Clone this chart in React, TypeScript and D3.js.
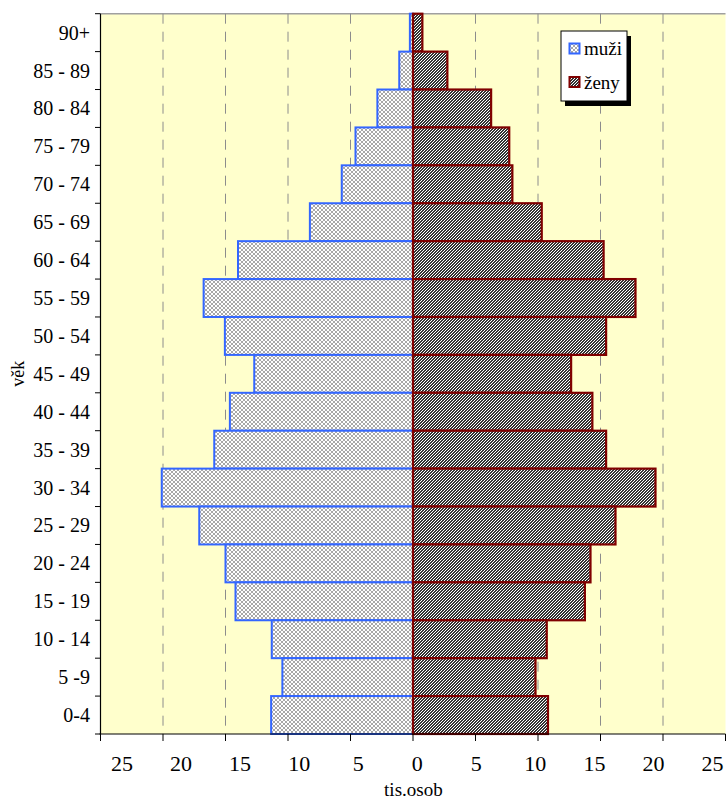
import { scaleBand, scaleLinear } from "d3";

const ageGroups = [
  "90+", "85 - 89", "80 - 84", "75 - 79", "70 - 74", "65 - 69", "60 - 64",
  "55 - 59", "50 - 54", "45 - 49", "40 - 44", "35 - 39", "30 - 34", "25 - 29",
  "20 - 24", "15 - 19", "10 - 14", "5 -9", "0-4",
];
// tis. osob, top row first
const muzi = [0.25, 1.1, 2.85, 4.6, 5.7, 8.25, 14.0, 16.75, 15.05, 12.7, 14.65, 15.9, 20.1, 17.1, 15.0, 14.2, 11.3, 10.45, 11.35];
const zeny = [0.75, 2.75, 6.25, 7.7, 7.95, 10.3, 15.25, 17.8, 15.45, 12.65, 14.35, 15.45, 19.4, 16.2, 14.2, 13.75, 10.7, 9.8, 10.8];
const xTicks = [-25, -20, -15, -10, -5, 0, 5, 10, 15, 20, 25];
const gridValues = [-20, -15, -10, -5, 5, 10, 15, 20];
const legendLabels = ["muži", "ženy"];

const FONT = "Liberation Serif, DejaVu Serif, serif";
const MEN_STROKE = "#3366ff";
const WOMEN_STROKE = "#800000";

export default function App() {
  const width = 727;
  const height = 800;
  const left = 100.5;
  const right = 725.5;
  const top = 13.7;
  const bottom = 734;

  const x = scaleLinear().domain([-25, 25]).range([left, right]);
  // Excel spreads the tick labels a bit narrower than the ticks themselves
  const xLabel = scaleLinear().domain([-25, 25]).range([122, 712.5]);
  const y = scaleBand<string>().domain(ageGroups).range([top, bottom]).padding(0);
  const bw = y.bandwidth();
  const x0 = x(0);

  const bandEdges = ageGroups.map((a) => y(a) as number).concat([bottom]);

  return (
    <svg
      width={width}
      height={height}
      style={{ position: "absolute", left: 0, top: 0, background: "#fff", fontFamily: FONT }}
    >
      <defs>
        <pattern id="pat-muzi" width="4" height="4" patternUnits="userSpaceOnUse">
          <rect width="4" height="4" fill="#ffffff" />
          {[[0, 0], [1, 1], [2, 2], [3, 3], [3, 0], [2, 1], [1, 2], [0, 3]].map(([px, py]) => (
            <rect key={`${px}-${py}`} x={px} y={py} width="1" height="1" fill="#a8a8a8" shapeRendering="crispEdges" />
          ))}
        </pattern>
        <pattern id="pat-zeny" width="3" height="3" patternUnits="userSpaceOnUse">
          <rect width="3" height="3" fill="#ffffff" />
          {[[0, 2], [1, 1], [2, 0], [1, 2], [2, 1], [0, 0]].map(([px, py]) => (
            <rect key={`${px}-${py}`} x={px} y={py} width="1" height="1" fill="#333333" shapeRendering="crispEdges" />
          ))}
        </pattern>
      </defs>

      {/* plot area */}
      <rect x={left} y={top} width={right - left} height={bottom - top} fill="#ffffcc" />
      <line x1={left} x2={right} y1={top} y2={top} stroke="#a0a0a0" strokeWidth="1.5" />

      {gridValues.map((v) => (
        <line
          key={`g-${v}`}
          x1={x(v)}
          x2={x(v)}
          y1={top}
          y2={bottom}
          stroke="#8c8c8c"
          strokeWidth="1"
          strokeDasharray="10,8"
        />
      ))}

      {/* men */}
      {muzi.map((v, i) => (
        <rect
          key={`m-${i}`}
          x={x(-v)}
          y={y(ageGroups[i])}
          width={x0 - x(-v)}
          height={bw}
          fill="url(#pat-muzi)"
          stroke={MEN_STROKE}
          strokeWidth="2"
        />
      ))}
      {/* women */}
      {zeny.map((v, i) => (
        <rect
          key={`z-${i}`}
          x={x0}
          y={y(ageGroups[i])}
          width={x(v) - x0}
          height={bw}
          fill="url(#pat-zeny)"
          stroke={WOMEN_STROKE}
          strokeWidth="2.2"
        />
      ))}

      {/* y axis */}
      <line x1={left} x2={left} y1={top} y2={bottom} stroke="#000" strokeWidth="1.2" />
      {bandEdges.map((e, i) => (
        <line key={`yt-${i}`} x1={left - 5.5} x2={left} y1={e} y2={e} stroke="#000" strokeWidth="1" />
      ))}
      {ageGroups.map((a) => (
        <text
          key={`yl-${a}`}
          x={90}
          y={(y(a) as number) + bw / 2 + 7}
          textAnchor="end"
          fontSize="20"
          fontFamily={FONT}
          fill="#000"
        >
          {a}
        </text>
      ))}
      <text
        transform={`translate(24,${(top + bottom) / 2}) rotate(-90)`}
        textAnchor="middle"
        fontSize="18"
        fontFamily={FONT}
      >
        věk
      </text>

      {/* x axis */}
      <line x1={left - 1} x2={right} y1={bottom} y2={bottom} stroke="#000" strokeWidth="1.2" />
      {xTicks.map((t) => (
        <line key={`xt-${t}`} x1={x(t)} x2={x(t)} y1={bottom} y2={bottom + 7} stroke="#000" strokeWidth="1" />
      ))}
      {xTicks.map((t) => (
        <text key={`xl-${t}`} x={xLabel(t)} y={771} textAnchor="middle" fontSize="22" fontFamily={FONT}>
          {Math.abs(t)}
        </text>
      ))}
      <text x={413.4} y={796} textAnchor="middle" fontSize="19" fontFamily={FONT}>
        tis.osob
      </text>

      {/* legend */}
      <rect x={565} y={36} width={66} height={70} fill="#000" />
      <rect x={561} y={31} width={66} height={70} fill="#fff" stroke="#000" strokeWidth="1" />
      {legendLabels.map((label, i) => {
        const sy = i === 0 ? 43.5 : 77;
        return (
          <g key={label}>
            <rect
              x={569.5}
              y={sy}
              width={10}
              height={10}
              fill={i === 0 ? "url(#pat-muzi)" : "url(#pat-zeny)"}
              stroke={i === 0 ? MEN_STROKE : WOMEN_STROKE}
              strokeWidth="2"
            />
            <text x={584} y={sy + 11.5} fontSize="19" fontFamily={FONT}>
              {label}
            </text>
          </g>
        );
      })}
    </svg>
  );
}
